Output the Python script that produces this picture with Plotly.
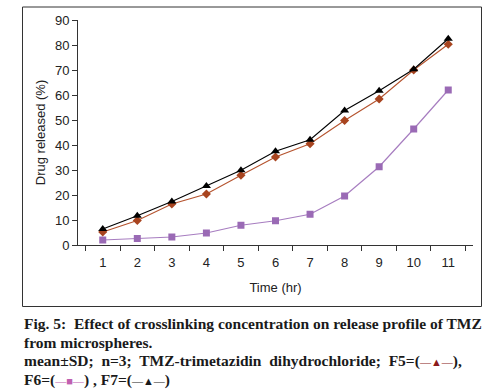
import plotly.graph_objects as go

time_hr = ["1", "2", "3", "4", "5", "6", "7", "8", "9", "10", "11"]
f5 = [5.2, 9.8, 16.4, 20.4, 27.9, 35.2, 40.5, 49.8, 58.4, 70.0, 80.3]
f6 = [2.0, 2.6, 3.2, 4.8, 7.9, 9.7, 12.3, 19.6, 31.3, 46.4, 62.0]
f7 = [6.4, 11.7, 17.4, 23.6, 29.9, 37.5, 42.1, 53.8, 61.7, 70.3, 82.5]
y_ticks = [0, 10, 20, 30, 40, 50, 60, 70, 80, 90]

fig = go.Figure()
fig.add_trace(go.Scatter(x=time_hr, y=f6, mode="lines+markers", name="F6",
                         line=dict(color="#a77dc0", width=1.2),
                         marker=dict(symbol="square", size=7, color="#9a6ab5")))
fig.add_trace(go.Scatter(x=time_hr, y=f5, mode="lines+markers", name="F5",
                         line=dict(color="#b5532e", width=1.1),
                         marker=dict(symbol="diamond", size=7, color="#a8441f")))
fig.add_trace(go.Scatter(x=time_hr, y=f7, mode="lines+markers", name="F7",
                         line=dict(color="#000000", width=1.1),
                         marker=dict(symbol="triangle-up", size=8, color="#000000")))

L, R, T, B = 78, 27, 20, 144
W, H = 500, 389
pw, ph = W - L - R, H - T - B

def px_x(x):
    return (x - L) / pw

def px_y(y):
    return (H - B - y) / ph

fig.update_layout(
    width=W, height=H,
    margin=dict(l=L, r=R, t=T, b=B),
    paper_bgcolor="white", plot_bgcolor="white",
    showlegend=False,
    font=dict(family="Liberation Sans, Arial", size=13, color="#222"),
    xaxis=dict(type="category", tickson="boundaries", ticks="outside", ticklen=5,
               tickcolor="#333", showline=True, linecolor="#333", linewidth=1,
               showgrid=False, zeroline=False, ticklabelstandoff=5,
               title=dict(text="Time (hr)", font=dict(size=13), standoff=14),
               tickfont=dict(size=13)),
    yaxis=dict(range=[0, 90], tickvals=y_ticks, ticks="outside", ticklen=5,
               tickcolor="#333", showline=True, linecolor="#333", linewidth=1,
               showgrid=False, zeroline=False,
               title=dict(text="Drug released (%)", font=dict(size=13), standoff=6),
               tickfont=dict(size=13)),
)

fig.add_shape(type="rect", xref="paper", yref="paper",
              x0=px_x(22.5), x1=px_x(481.5), y0=px_y(306.5), y1=px_y(7),
              line=dict(color="#333", width=1), fillcolor="rgba(0,0,0,0)")

cap_font = dict(family="Liberation Serif, DejaVu Serif", size=15.5, color="#1a1a1a")
sym = "<span style='font-size:11px'>{}</span>"
lines = [
    (323, "<b>Fig. 5:  Effect of crosslinking concentration on release profile of TMZ</b>"),
    (342, "<b>from microspheres.</b>"),
    (361, "<b>mean±SD;  n=3;  TMZ-trimetazidin  dihydrochloride;  F5=(<span style='color:#8b1a1a'>"
          + sym.format("—▲—") + "</span>),</b>"),
    (380, "<b>F6=(<span style='color:#c060b0'>" + sym.format("—■—") + "</span>) , F7=("
          + sym.format("—▲—") + ")</b>"),
]
for y, txt in lines:
    fig.add_annotation(x=px_x(22), y=px_y(y), xref="paper", yref="paper",
                       text=txt, showarrow=False, xanchor="left", yanchor="middle",
                       align="left", font=cap_font)

fig.write_html("out.html", config={"displayModeBar": False},
               post_script="document.body.style.margin='0px';")
